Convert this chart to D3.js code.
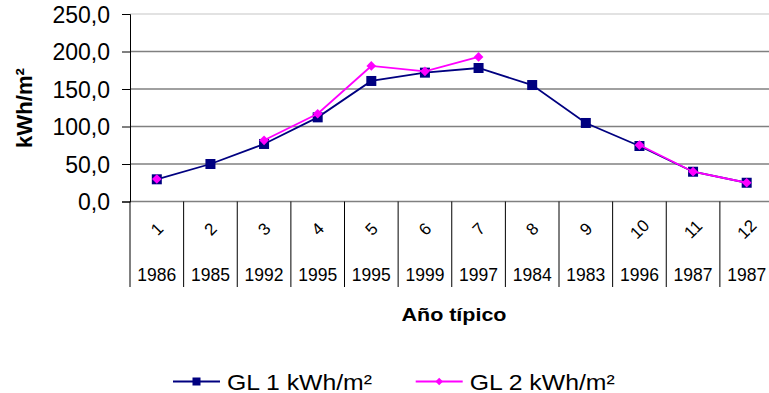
<!DOCTYPE html>
<html><head><meta charset="utf-8">
<script src="https://cdn.jsdelivr.net/npm/d3@7"></script>
<style>body{margin:0;background:#fff;} svg{display:block;font-family:"Liberation Sans",Arial,sans-serif;}</style>
</head><body><div id="chart"></div>
<script>
const months = ["1","2","3","4","5","6","7","8","9","10","11","12"];
const years = ["1986","1985","1992","1995","1995","1999","1997","1984","1983","1996","1987","1987"];
const gl1 = [29.6, 50.0, 76.7, 112.2, 160.7, 171.8, 178.0, 155.3, 104.7, 74.0, 39.7, 25.0];
const gl2 = [30.0, null, 81.6, 117.0, 180.7, 173.6, 192.7, null, null, 75.3, 39.7, 25.0];
const yTicks = [0, 50, 100, 150, 200, 250];
const seriesNames = ["GL 1 kWh/m²", "GL 2 kWh/m²"];
const colors = ["#000080", "#FF00FF"];

const W = 769, H = 393;
const svg = d3.select("#chart").append("svg").attr("width", W).attr("height", H);

const x = d3.scaleBand().domain(months).range([130, 773.5]).padding(0);
const y = d3.scaleLinear().domain([0, 250]).range([201.5, 14]);
const fmt = v => d3.format(".1f")(v).replace(".", ",");

// gridlines
svg.append("g").selectAll("line").data(yTicks).join("line")
  .attr("x1", 130).attr("x2", 773.5)
  .attr("y1", d => y(d)).attr("y2", d => y(d))
  .attr("stroke", d => d === 250 ? "#d9d9d9" : "#808080")
  .attr("stroke-width", 1.5);

// y axis
const yAxis = svg.append("g").attr("transform", "translate(130,0)")
  .call(d3.axisLeft(y).tickValues(yTicks).tickSize(8).tickFormat(fmt));
yAxis.select(".domain").attr("stroke", "#000").attr("stroke-width", 1);
yAxis.selectAll(".tick line").attr("stroke", "#000");
yAxis.selectAll(".tick text").attr("x", -20).attr("dy", "0.36em")
  .style("font-size", "23px").style("font-family", "Liberation Sans, Arial, sans-serif").attr("fill", "#000");

// category separators
const bounds = months.map(m => x(m)).concat([x.range()[1]]);
svg.append("g").selectAll("line").data(bounds).join("line")
  .attr("x1", d => d).attr("x2", d => d)
  .attr("y1", 201.5).attr("y2", 287)
  .attr("stroke", "#000").attr("stroke-width", 1);

// rotated month labels
svg.append("g").selectAll("text").data(months).join("text")
  .attr("transform", d => `translate(${x(d) + x.bandwidth()/2},229) rotate(-45)`)
  .attr("text-anchor", "middle").attr("dy", "0.35em")
  .style("font-size", "17px").text(d => d);

// year labels
svg.append("g").selectAll("text").data(years).join("text")
  .attr("x", (d, i) => x(months[i]) + x.bandwidth()/2)
  .attr("y", 281)
  .attr("text-anchor", "middle")
  .style("font-size", "17.5px").text(d => d);

// axis titles
svg.append("text").attr("transform", "translate(32,108) rotate(-90)")
  .attr("text-anchor", "middle").style("font-size", "22px").style("font-weight", "bold")
  .attr("textLength", 80).attr("lengthAdjust", "spacingAndGlyphs")
  .text("kWh/m²");
svg.append("text").attr("x", 454).attr("y", 321).attr("text-anchor", "middle")
  .style("font-size", "18px").style("font-weight", "bold")
  .attr("textLength", 105).attr("lengthAdjust", "spacingAndGlyphs")
  .text("Año típico");

const cx = i => x(months[i]) + x.bandwidth()/2;
const line = d3.line().defined(d => d.v !== null).x(d => cx(d.i)).y(d => y(d.v));

function drawSeries(vals, color, shape) {
  const pts = vals.map((v, i) => ({v, i}));
  svg.append("path").datum(pts).attr("d", line)
    .attr("fill", "none").attr("stroke", color).attr("stroke-width", 1.8);
  const valid = pts.filter(d => d.v !== null);
  if (shape === "square") {
    svg.append("g").selectAll("rect").data(valid).join("rect")
      .attr("x", d => cx(d.i) - 5).attr("y", d => y(d.v) - 5)
      .attr("width", 10).attr("height", 10).attr("fill", color);
  } else {
    svg.append("g").selectAll("path").data(valid).join("path")
      .attr("d", d3.symbol(d3.symbolDiamond2, 60)())
      .attr("transform", d => `translate(${cx(d.i)},${y(d.v)})`)
      .attr("fill", color);
  }
}
drawSeries(gl1, colors[0], "square");
drawSeries(gl2, colors[1], "diamond");

// legend
const legX = [173, 415.7];
const lg = svg.append("g");
seriesNames.forEach((name, i) => {
  const x0 = legX[i];
  lg.append("line").attr("x1", x0).attr("x2", x0 + 47).attr("y1", 381.5).attr("y2", 381.5)
    .attr("stroke", colors[i]).attr("stroke-width", 1.8);
  if (i === 0) {
    lg.append("rect").attr("x", x0 + 23.5 - 4).attr("y", 381.5 - 4).attr("width", 8).attr("height", 8).attr("fill", colors[i]);
  } else {
    lg.append("path").attr("d", d3.symbol(d3.symbolDiamond2, 36)())
      .attr("transform", `translate(${x0 + 23.5},381.5)`).attr("fill", colors[i]);
  }
  lg.append("text").attr("x", x0 + 54).attr("y", 389.5)
    .style("font-size", "22px").attr("textLength", 145).attr("lengthAdjust", "spacingAndGlyphs")
    .text(name);
});
</script>
</body></html>
